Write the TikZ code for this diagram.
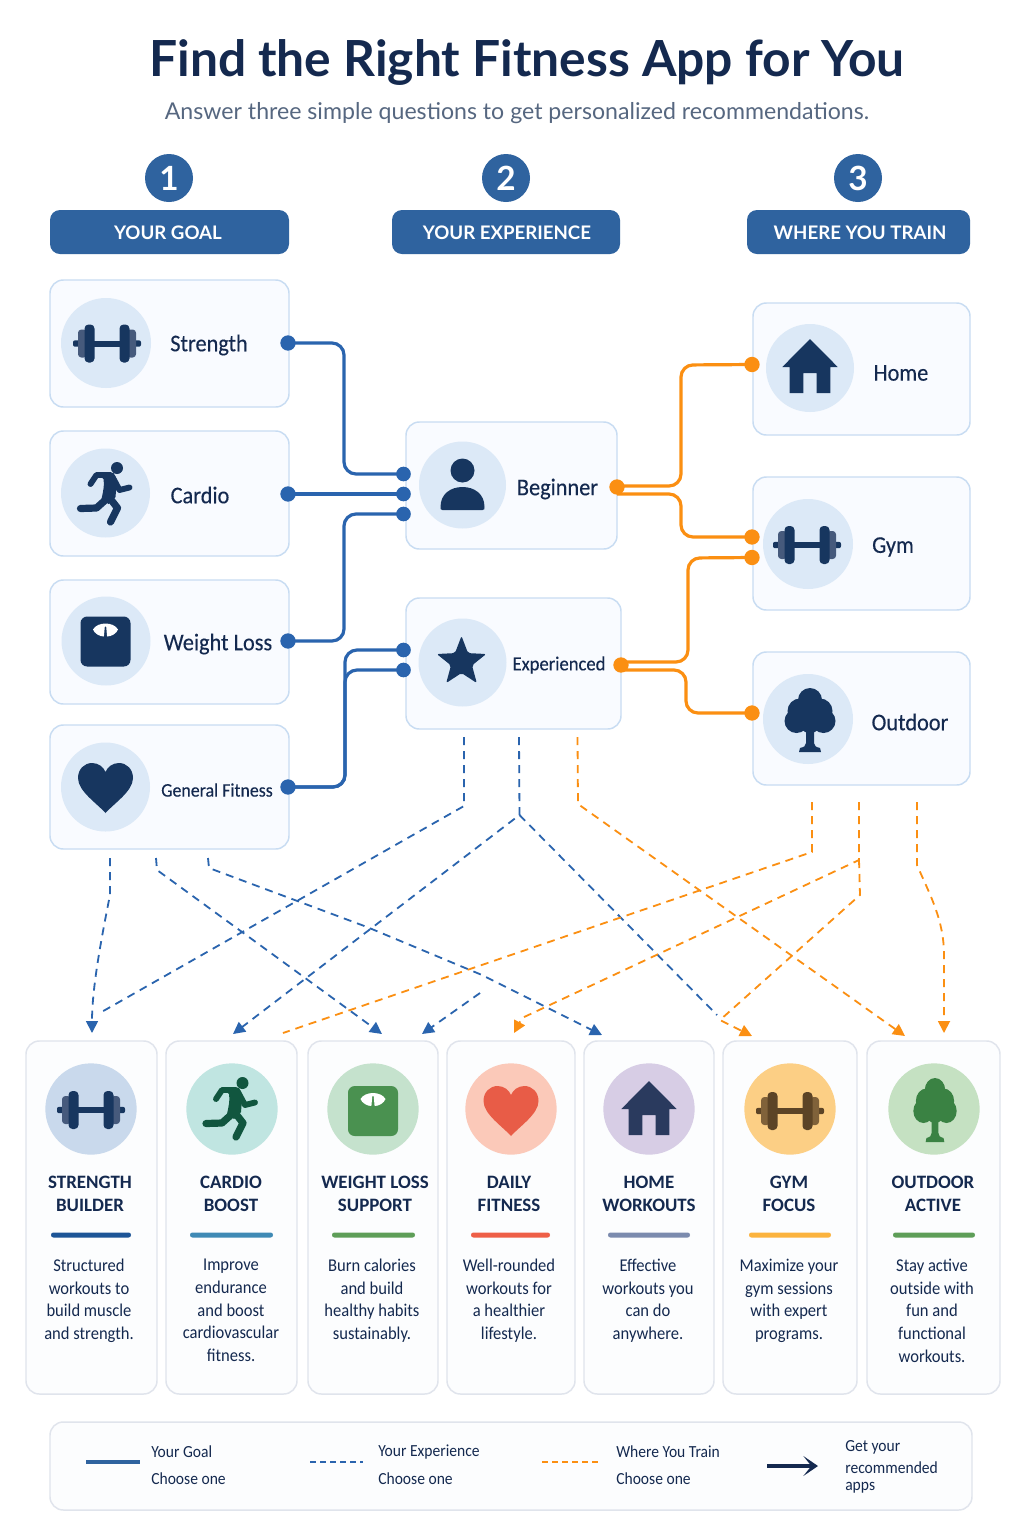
\documentclass[tikz,border=0pt]{standalone}
\usepackage{fontspec}
\setmainfont{Lato}
\newfontfamily\narrowf[FakeStretch=0.92]{Carlito}
\newfontfamily\titlef{Carlito}
\newfontfamily\pickf[FakeBold=0.25,FakeStretch=0.93]{Carlito}
\usetikzlibrary{arrows.meta}
\definecolor{navy}{HTML}{14294F}
\definecolor{icn}{HTML}{17365F}
\definecolor{icnb}{HTML}{465A7C}
\definecolor{head}{HTML}{2F639F}
\definecolor{wireb}{HTML}{2A64AE}
\definecolor{wireo}{HTML}{FB8F12}
\definecolor{boxline}{HTML}{C8DCF2}
\definecolor{boxfill}{HTML}{F9FBFF}
\definecolor{iconbg}{HTML}{DCE9F7}
\definecolor{cardline}{HTML}{E0E4EC}
\definecolor{cardfill}{HTML}{FCFDFE}
\definecolor{subt}{HTML}{566780}
\definecolor{grun}{HTML}{11563F}
\definecolor{gscale}{HTML}{4A9150}
\definecolor{rheart}{HTML}{E85C47}
\definecolor{phouse}{HTML}{2A3A5E}
\definecolor{gtree}{HTML}{3A8243}
\definecolor{gbrown}{HTML}{5C4426}
\definecolor{gbrownb}{HTML}{80623A}
\tikzset{
  pickbox/.style={draw=boxline,line width=1.1pt,fill=boxfill,rounded corners=10pt},
  cardbox/.style={draw=cardline,line width=1.1pt,fill=cardfill,rounded corners=10pt},
  headbox/.style={fill=head,rounded corners=7.5pt},
  badge/.style={circle,fill=head,inner sep=0pt,minimum size=36pt,text=white,font=\fontsize{25}{25}\bfseries\selectfont},
  headlabel/.style={text=white,font=\fontsize{14}{14}\bfseries\selectfont},
  pick/.style={text=navy,font=\pickf\fontsize{18}{18}\selectfont,inner sep=0pt},
  ctitle/.style={text=navy,align=center,inner sep=0pt,anchor=north,font=\titlef\fontsize{14.2}{17.2}\bfseries\selectfont},
  cdesc/.style={text=navy,align=center,inner sep=0pt,anchor=north,font=\narrowf\fontsize{13.5}{16.95}\selectfont},
  legtext/.style={text=navy,inner sep=0pt,anchor=west,font=\narrowf\fontsize{12.7}{15}\selectfont},
  bdot/.style={circle,fill=wireb,inner sep=0pt,minimum size=11.5pt},
  odot/.style={circle,fill=wireo,inner sep=0pt,minimum size=11.5pt},
  bwire/.style={draw=wireb,line width=2.4pt,rounded corners=9pt},
  owire/.style={draw=wireo,line width=2.4pt,rounded corners=9pt},
  bdash/.style={draw=wireb,line width=1.35pt,dash pattern=on 6pt off 4.5pt},
  odash/.style={draw=wireo,line width=1.35pt,dash pattern=on 6pt off 4.5pt},
  btip/.style={-{Triangle[length=9pt,width=9pt,fill=wireb]}},
  otip/.style={-{Triangle[length=9pt,width=9pt,fill=wireo]}},
}
\newcommand{\areanode}[6]{%
  \pgfmathsetmacro\mycx{(#3+#5)/2}\pgfmathsetmacro\mycy{(#4+#6)/2}%
  \pgfmathsetmacro\myww{(#5-#3)*0.75}\pgfmathsetmacro\myhh{(#6-#4)*0.75}%
  \node[#1,minimum width=\myww pt,minimum height=\myhh pt,inner sep=0pt] (#2) at (\mycx,\mycy) {};}
\newcommand{\icodumb}[4]{\begin{scope}[shift={(#1,#2)}]
  \fill[#3] (-13,-3) rectangle (13,3);
  \fill[#3,rounded corners=1.5pt] (-34,-3.2) rectangle (-27,3.2);
  \fill[#3,rounded corners=1.5pt] (27,-3.2) rectangle (34,3.2);
  \fill[#4,rounded corners=2.5pt] (-29,-14) rectangle (-20,14);
  \fill[#4,rounded corners=2.5pt] (20,-14) rectangle (29,14);
  \fill[#3,rounded corners=3pt] (-22.5,-19) rectangle (-12.5,19);
  \fill[#3,rounded corners=3pt] (12.5,-19) rectangle (22.5,19);
\end{scope}}
\newcommand{\icorun}[3]{\begin{scope}[shift={(#1,#2)},draw=#3,line cap=round,line join=round]
  \fill[#3] (11.5,-25) circle (6);
  \fill[#3] (-8,-20) -- (8,-20) .. controls (12,-15) and (11,-8) .. (10,4) -- (3,11) -- (-4,6) .. controls (-2,-3) and (-1,-8) .. (-2,-14) -- cycle;
  \draw[line width=4.4pt] (5,-18) -- (-9,-18) -- (-15,-9);
  \draw[line width=4.4pt] (7,-16) -- (14,-3) -- (24,-5.5);
  \draw[line width=5.4pt] (5,6) -- (12,15) -- (5,29);
  \draw[line width=5.4pt] (1,6) -- (-9,15) -- (-25,15.5);
\end{scope}}
\newcommand{\icoscale}[4]{\begin{scope}[shift={(#1,#2)}]
  \fill[#3,rounded corners=5pt] (-25,-25) rectangle (25,25);
  \fill[#4] (-12.5,-12) .. controls (-8,-20) and (8,-20) .. (12.5,-12) .. controls (11,-8) and (6,-5) .. (1.6,-5) -- (0.7,-15) -- (-0.7,-15) -- (-1.6,-5) .. controls (-6,-5) and (-11,-8) .. (-12.5,-12) -- cycle;
\end{scope}}
\newcommand{\icoheart}[3]{\begin{scope}[shift={(#1,#2)}]
  \fill[#3] (0,26) .. controls (-9,16) and (-27.5,4) .. (-27.5,-9) .. controls (-27.5,-18) and (-21,-24) .. (-13.5,-24) .. controls (-7,-24) and (-2,-20) .. (0,-15) .. controls (2,-20) and (7,-24) .. (13.5,-24) .. controls (21,-24) and (27.5,-18) .. (27.5,-9) .. controls (27.5,4) and (9,16) .. (0,26) -- cycle;
\end{scope}}
\newcommand{\icoperson}[3]{\begin{scope}[shift={(#1,#2)}]
  \fill[#3] (0,-14.5) circle (12);
  \fill[#3] (-20,25) .. controls (-22,25) and (-22,24) .. (-22,22) .. controls (-22,9) and (-12,2) .. (0,2) .. controls (12,2) and (22,9) .. (22,22) .. controls (22,24) and (22,25) .. (20,25) -- cycle;
\end{scope}}
\newcommand{\icostar}[3]{\begin{scope}[shift={(#1,#2)}]
  \fill[#3,rounded corners=1.5pt] (0,-26) -- (6.5,-8.9) -- (24.7,-8) -- (10.5,3.4) -- (15.3,21) -- (0,11) -- (-15.3,21) -- (-10.5,3.4) -- (-24.7,-8) -- (-6.5,-8.9) -- cycle;
\end{scope}}
\newcommand{\icohouse}[3]{\begin{scope}[shift={(#1,#2)}]
  \fill[#3,even odd rule] (0,-29) -- (27.7,-1) -- (20.3,-1) -- (20.3,25) -- (6.7,25) -- (6.7,5) -- (-6.7,5) -- (-6.7,25) -- (-20.3,25) -- (-20.3,-1) -- (-27.7,-1) -- cycle;
\end{scope}}
\newcommand{\icotree}[4]{\begin{scope}[shift={(#1,#2)},xscale=#3]
  \fill[#4] (0,-19) circle (12);
  \fill[#4] (-10,-8) circle (12.5);
  \fill[#4] (10,-8) circle (12.5);
  \fill[#4] (-13.5,2) circle (12);
  \fill[#4] (13.5,2) circle (12);
  \fill[#4] (0,2) circle (12);
  \fill[#4] (-4,10) -- (4,10) -- (4,24) .. controls (4,27) and (6,28) .. (10,29) -- (11,33) -- (-11,33) -- (-10,29) .. controls (-6,28) and (-4,27) .. (-4,24) -- cycle;
\end{scope}}
\begin{document}
\begin{tikzpicture}[x=0.75pt,y=-0.75pt]
\useasboundingbox (0,0) rectangle (1024,1536);
\fill[white!99!boxfill] (0,0) rectangle (1024,1536);
% title
\node[text=navy,font=\fontsize{37.3}{37}\bfseries\selectfont,inner sep=0pt] (title) at (527,63) {Find the Right Fitness App for You};
\node[text=subt,font=\fontsize{17.35}{18}\selectfont,inner sep=0pt] (subtitle) at (517,113) {Answer three simple questions to get personalized recommendations.};
% column headers
\node[badge] (n1) at (169,178) {1};
\node[badge] (n2) at (506,178) {2};
\node[badge] (n3) at (858,178) {3};
\areanode{headbox}{h1}{50}{210}{289}{254}
\areanode{headbox}{h2}{392}{210}{620}{254}
\areanode{headbox}{h3}{747}{210}{970}{254}
\node[headlabel] (h1t) at (168,233) {YOUR GOAL};
\node[headlabel] (h2t) at (507,233) {YOUR EXPERIENCE};
\node[headlabel] (h3t) at (860,233) {WHERE YOU TRAIN};
% choice boxes
\areanode{pickbox}{strength}{50}{280}{289}{407}
\areanode{pickbox}{cardio}{50}{431}{289}{556}
\areanode{pickbox}{weight}{50}{580}{289}{704}
\areanode{pickbox}{general}{50}{725}{289}{849}
\areanode{pickbox}{beginner}{406}{422}{617}{549}
\areanode{pickbox}{experienced}{406}{598}{621}{729}
\areanode{pickbox}{home}{753}{303}{970}{435}
\areanode{pickbox}{gym}{753}{477}{970}{610}
\areanode{pickbox}{outdoor}{753}{652}{970}{785}
% icon discs
\foreach \nm/\px/\py/\pr in {a/106/343/45,b/105.5/493/44.5,c/106/641/44.5,d/105.5/787/44.5,e/462.5/485/43.5,f/462.5/662.5/44,g/810/368/44,h/808/544/45,i/808/719/45}{
  \node[circle,fill=iconbg,inner sep=0pt,minimum size=\pr*1.5pt] (disc\nm) at (\px,\py) {};
}
\icodumb{107}{343.5}{icn}{icnb}
\icorun{105.5}{493}{icn}
\icoscale{105.5}{641.5}{icn}{white}
\icoheart{105.5}{787}{icn}
\icoperson{462.5}{485}{icn}
\icostar{461.5}{662}{icn}
\icohouse{810}{368}{icn}
\icodumb{807}{545}{icn}{icnb}
\icotree{810}{719}{1}{icn}
% labels
\node[pick] (lstrength) at (209,345) {Strength};
\node[pick] (lcardio) at (200,495) {Cardio};
\node[pick] (lweight) at (218,644) {Weight Loss};
\node[pick,font=\pickf\fontsize{14.4}{18}\selectfont] (lgeneral) at (217,790) {General Fitness};
\node[pick] (lbeginner) at (557.5,489) {Beginner};
\node[pick,font=\pickf\fontsize{15}{18}\selectfont] (lexperienced) at (559,665) {Experienced};
\node[pick] (lhome) at (901,373) {Home};
\node[pick] (lgym) at (893,547) {Gym};
\node[pick] (loutdoor) at (910,722) {Outdoor};
% dots
\node[bdot] (ds) at (288,343) {};
\node[bdot] (dc) at (288,494) {};
\node[bdot] (dw) at (288,641) {};
\node[bdot] (dg) at (288,787) {};
\node[bdot,minimum size=11pt] (b1) at (403.5,474) {};
\node[bdot,minimum size=11pt] (b2) at (403.5,494) {};
\node[bdot,minimum size=11pt] (b3) at (403.5,514) {};
\node[bdot,minimum size=11pt] (e1) at (403.5,650) {};
\node[bdot,minimum size=11pt] (e2) at (403.5,670) {};
\node[odot] (ob) at (617,487) {};
\node[odot] (oe) at (621,665) {};
\node[odot] (t1) at (752,364.5) {};
\node[odot] (t2) at (752,537) {};
\node[odot] (t3) at (752,557.5) {};
\node[odot] (t4) at (752,713) {};
% solid connectors
\draw[bwire] (ds.center) -- (344,343) -- (344,474) -- (b1.center);
\draw[bwire] (dc.center) -- (b2.center);
\draw[bwire] (dw.center) -- (344,641) -- (344,514) -- (b3.center);
\draw[bwire] (dg.center) -- (345,787) -- (345,650) -- (e1.center);
\draw[bwire] (dg.center) -- (345,787) -- (345,670) -- (e2.center);
\draw[owire] (ob.center) ++(0,-1) -- (681,486) -- (681,365) -- (t1.center);
\draw[owire] (ob.center) ++(0,7) -- (681,494) -- (681,537) -- (t2.center);
\draw[owire] (oe.center) ++(0,-3) -- (688,662) -- (688,558) -- (t3.center);
\draw[owire] (oe.center) ++(0,5) -- (686,670) -- (686,713) -- (t4.center);
% free ends of the dashed connectors
\coordinate (a0) at (110,858);
\coordinate (a1) at (92,1033);
\coordinate (b0) at (156,858);
\coordinate (b9) at (382,1034);
\coordinate (c0) at (208,858);
\coordinate (c9) at (602,1035);
\coordinate (d0) at (464,737);
\coordinate (d9) at (98,1014);
\coordinate (e0) at (519,737);
\coordinate (e8) at (233,1034);
\coordinate (e9) at (717,1015);
\coordinate (g0) at (480,993);
\coordinate (g9) at (422,1034);
\coordinate (h0) at (577.5,737);
\coordinate (h9) at (905,1036);
\coordinate (i0) at (812,802);
\coordinate (i9) at (283,1033);
\coordinate (j0) at (859,802);
\coordinate (j8) at (514,1033);
\coordinate (j9) at (752,1036);
\coordinate (k0) at (917,802);
\coordinate (k9) at (944,1033);
% dashed connectors
\draw[bdash,btip] (a0) -- (110,895) .. controls (100,945) and (92,990) .. (a1);
\draw[bdash,btip] (b0) -- (157,870) -- (b9);
\draw[bdash,btip] (c0) -- (209,868) -- (367,927) -- (482,975) -- (c9);
\draw[bdash] (d0) -- (464,806) -- (d9);
\draw[bdash,btip] (e0) -- (519.5,815) -- (e8);
\draw[bdash] (519.5,815) -- (e9);
\draw[bdash,btip] (g0) -- (g9);
\draw[odash,otip] (h0) -- (578,804) -- (h9);
\draw[odash] (i0) -- (812,852) -- (i9);
\draw[odash,otip] (j0) -- (859,860) -- (522,1018) -- (j8);
\draw[odash,otip] (859,860) -- (860,895) -- (720,1020) -- (j9);
\draw[odash,otip] (k0) -- (917,865) .. controls (930,895) and (944,920) .. (944,955) -- (k9);
% recommendation cards
\areanode{cardbox}{r1}{26}{1041}{157}{1394}
\areanode{cardbox}{r2}{166}{1041}{297}{1394}
\areanode{cardbox}{r3}{308}{1041}{438}{1394}
\areanode{cardbox}{r4}{447}{1041}{575}{1394}
\areanode{cardbox}{r5}{584}{1041}{714}{1394}
\areanode{cardbox}{r6}{723}{1041}{857}{1394}
\areanode{cardbox}{r7}{867}{1041}{1000}{1394}
\foreach \nm/\px/\pc in {1/91/C9D9EC,2/232/C0E5E1,3/373/C5E2CD,4/511/FBC9B9,5/649/D7CDE5,6/790/FCCF85,7/934/C5E1C2}{
  \definecolor{tmpc}{HTML}{\pc}
  \node[circle,fill=tmpc,inner sep=0pt,minimum size=68.5pt] (rd\nm) at (\px,1109) {};
}
\icodumb{91}{1110}{icn}{icnb}
\icorun{231}{1108}{grun}
\icoscale{373}{1111}{gscale}{white}
\icoheart{511}{1110}{rheart}
\icohouse{649}{1110}{phouse}
\icodumb{790}{1111}{gbrown}{gbrownb}
\icotree{935}{1109}{0.85}{gtree}
\foreach \nm/\px/\pt in {1/90/{STRENGTH\\BUILDER},2/231/{CARDIO\\BOOST},3/375/{WEIGHT LOSS\\SUPPORT},4/509/{DAILY\\FITNESS},5/649/{HOME\\WORKOUTS},6/789/{GYM\\FOCUS},7/933/{OUTDOOR\\ACTIVE}}{
  \node[ctitle] (rt\nm) at (\px,1176) {\pt};
}
\foreach \nm/\pa/\pb/\pc in {1/51/131/1D5597,2/190/273/3F8AB5,3/332/415/5E9E58,4/471/550/EE5F47,5/608/690/7B8BAE,6/749/831/FBB33E,7/893/975/5E9E58}{
  \definecolor{tmpc}{HTML}{\pc}
  \fill[tmpc,rounded corners=1.8pt] (\pa,1232.5) rectangle (\pb,1237.5);
}
\node[cdesc] (rx1) at (89,1259) {Structured\\workouts to\\build muscle\\and strength.};
\node[cdesc] (rx2) at (231,1259) {Improve\\endurance\\and boost\\cardiovascular\\fitness.};
\node[cdesc] (rx3) at (372,1259) {Burn calories\\and build\\healthy habits\\sustainably.};
\node[cdesc] (rx4) at (509,1259) {Well-rounded\\workouts for\\a healthier\\lifestyle.};
\node[cdesc] (rx5) at (648,1259) {Effective\\workouts you\\can do\\anywhere.};
\node[cdesc] (rx6) at (789,1259) {Maximize your\\gym sessions\\with expert\\programs.};
\node[cdesc] (rx7) at (932,1259) {Stay active\\outside with\\fun and\\functional\\workouts.};
% legend
\areanode{cardbox}{legend}{50}{1422}{972}{1510}
\coordinate (l1a) at (86,1462); \coordinate (l1b) at (140,1462);
\coordinate (l2a) at (310,1462); \coordinate (l2b) at (363,1462);
\coordinate (l3a) at (542,1462); \coordinate (l3b) at (598,1462);
\coordinate (l4a) at (767,1466); \coordinate (l4b) at (818,1466);
\draw[draw=head,line width=2.4pt] (l1a) -- (l1b);
\draw[bdash,line width=1.6pt,dash pattern=on 4.5pt off 3pt] (l2a) -- (l2b);
\draw[odash,line width=1.6pt,dash pattern=on 4.5pt off 3pt] (l3a) -- (l3b);
\draw[draw=navy,line width=2.6pt,-{Stealth[length=11pt,width=15pt,inset=6pt]}] (l4a) -- (l4b);
\node[legtext] (lg1a) at (151,1452) {Your Goal};
\node[legtext] (lg1b) at (151,1479) {Choose one};
\node[legtext] (lg2a) at (378,1452) {Your Experience};
\node[legtext] (lg2b) at (378,1479) {Choose one};
\node[legtext] (lg3a) at (616,1452) {Where You Train};
\node[legtext] (lg3b) at (616,1479) {Choose one};
\node[legtext] (lg4a) at (845,1447) {Get your};
\node[legtext] (lg4b) at (845,1467.5) {recommended};
\node[legtext] (lg4c) at (845,1488) {apps};
\end{tikzpicture}
\end{document}
